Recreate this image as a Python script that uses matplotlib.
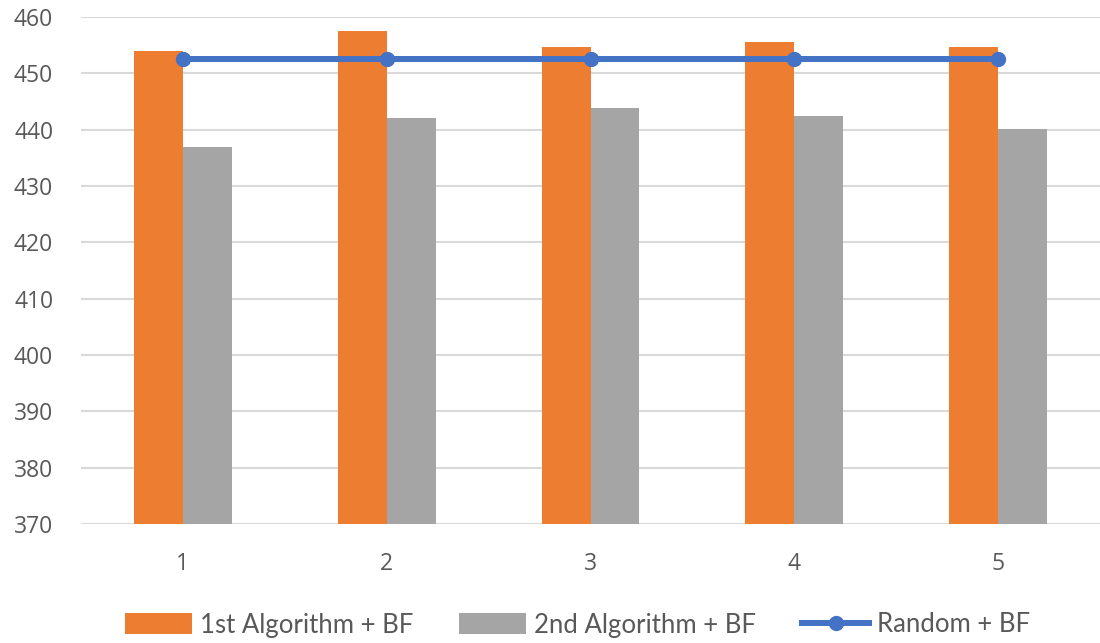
import matplotlib
matplotlib.use("Agg")
import matplotlib.pyplot as plt
import numpy as np

categories = ["1", "2", "3", "4", "5"]
first_alg = [453.9, 457.6, 454.6, 455.6, 454.6]
second_alg = [437.0, 442.1, 443.9, 442.4, 440.1]
random_bf = [452.6, 452.6, 452.6, 452.6, 452.6]
y_ticks = [370, 380, 390, 400, 410, 420, 430, 440, 450, 460]

ORANGE = "#ED7D31"
GRAY = "#A5A5A5"
BLUE = "#4472C4"
TEXT = "#595959"
GRID = "#D9D9D9"

fig = plt.figure(figsize=(11, 6.43), dpi=100)
ax = fig.add_axes([81 / 1100, 1 - 524 / 643, 1 - 81 / 1100, (524 - 17) / 643])

x = np.arange(len(categories))
w = 0.24
b1 = ax.bar(x - w, first_alg, width=w, align="edge", color=ORANGE,
            label="1st Algorithm + BF", zorder=2)
b2 = ax.bar(x, second_alg, width=w, align="edge", color=GRAY,
            label="2nd Algorithm + BF", zorder=2)
ln, = ax.plot(x, random_bf, color=BLUE, lw=4.3, marker="o", markersize=10,
              label="Random + BF", zorder=3)

ax.set_xlim(-0.5, len(categories) - 0.5)
ax.set_ylim(370, 460)
ax.set_yticks(y_ticks)
ax.set_xticks(x)
ax.set_xticklabels(categories)
ax.yaxis.grid(True, color=GRID, lw=1.5, zorder=0)
ax.set_axisbelow(True)
for s in ax.spines.values():
    s.set_visible(False)
ax.tick_params(axis="both", length=0, labelsize=16.5, labelcolor=TEXT)
ax.tick_params(axis="y", pad=20)
ax.tick_params(axis="x", pad=20)
for lab in ax.get_xticklabels() + ax.get_yticklabels():
    lab.set_family("Open Sans")

leg = fig.legend(handles=[b1, b2, ln], loc="center",
                 bbox_to_anchor=(0.525, 1 - 625 / 643), ncol=3,
                 frameon=False, handlelength=2.6, handleheight=0.85,
                 handletextpad=0.3, columnspacing=1.8,
                 prop={"family": "Lato", "size": 18.5})
for t in leg.get_texts():
    t.set_color(TEXT)

fig.savefig("out.png", dpi=100, facecolor="white")
